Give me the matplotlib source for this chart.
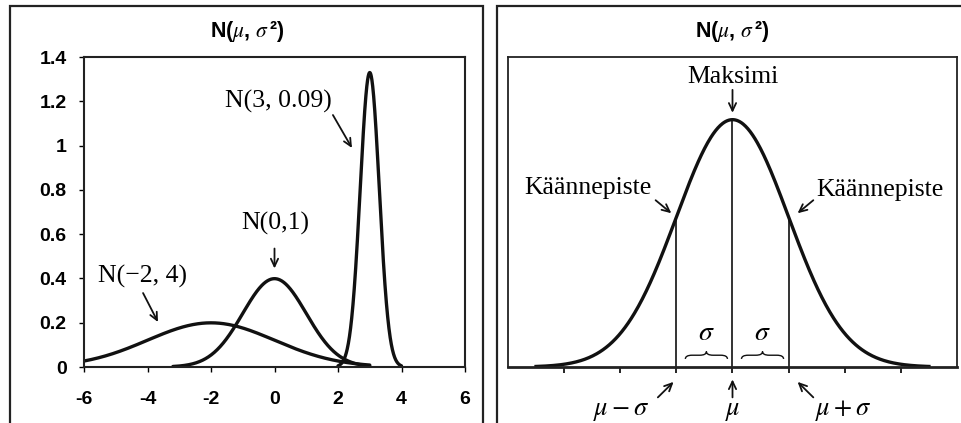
import numpy as np
import matplotlib
matplotlib.use("Agg")
import matplotlib.pyplot as plt
from matplotlib.patches import Rectangle, PathPatch
from matplotlib.path import Path

plt.rcParams['mathtext.fontset'] = 'stix'

# ---------------- data ----------------
# left panel: three normal distributions N(mean, variance)
means = [-2, 0, 3]
variances = [4, 1, 0.09]
x_start = [-6.0, -3.2, 2.0]
x_end = [3.0, 3.0, 4.0]
curve_labels = ["N(\u22122, 4)", "N(0,1)", "N(3, 0.09)"]
left_xticks = [-6, -4, -2, 0, 2, 4, 6]
left_yticks = [0, 0.2, 0.4, 0.6, 0.8, 1.0, 1.2, 1.4]
left_yticklabels = ["0", "0.2", "0.4", "0.6", "0.8", "1", "1.2", "1.4"]

# right panel: standard curve in sigma units
right_mu = 0.0
right_sigma = 1.0
right_range = [-3.5, 3.5]
right_xticks = [-3, -2, -1, 0, 1, 2, 3]
marker_offsets = [-1, 0, 1]
bottom_labels = [r"$\mu-\sigma$", r"$\mu$", r"$\mu+\sigma$"]

title_text = r"N($\mu$, $\sigma\,$²)"


def npdf(x, m, v):
    return np.exp(-(x - m) ** 2 / (2 * v)) / np.sqrt(2 * np.pi * v)


W, H = 962, 423
fig = plt.figure(figsize=(W / 100, H / 100), dpi=100)

serif = "Liberation Serif"
sans = "Liberation Sans"
col = "#111111"

# outer frames
for (x0, x1) in [(10, 483), (497, 975)]:
    fig.patches.append(Rectangle((x0 / W, -0.05), (x1 - x0) / W, 1.05 - 6 / H,
                                 transform=fig.transFigure, fill=False,
                                 lw=1.6, ec="#222222", clip_on=False))

# titles
for cx in (247, 732):
    fig.text(cx / W, 1 - 32 / H, title_text, ha="center", va="center",
             fontsize=15.5, fontweight="bold", family=sans)

# ---------------- left panel ----------------
axL = fig.add_axes([84 / W, 1 - 367 / H, (465 - 84) / W, (367 - 57) / H])
for m, v, a, b in zip(means, variances, x_start, x_end):
    xs = np.linspace(a, b, 400)
    axL.plot(xs, npdf(xs, m, v), color=col, lw=2.4, solid_capstyle="round")
axL.set_xlim(-6, 6)
axL.set_ylim(0, 1.4)
axL.set_xticks(left_xticks)
axL.set_xticklabels([str(t) for t in left_xticks])
axL.set_yticks(left_yticks)
axL.set_yticklabels(left_yticklabels)
for s in axL.spines.values():
    s.set_linewidth(1.5)
    s.set_color("#222222")
axL.tick_params(length=3.5, width=1)
axL.tick_params(axis="x", pad=14)
axL.tick_params(axis="y", pad=9)
for lab in axL.get_xticklabels() + axL.get_yticklabels():
    lab.set_fontfamily(sans)
    lab.set_fontweight("bold")
    lab.set_fontsize(14)

arrow_kw = dict(arrowstyle="->,head_length=0.55,head_width=0.26", lw=1.3, color=col,
                shrinkA=0, shrinkB=0)
fs = 18.5
# label positions and arrows (text xy, arrow start, arrow end)
left_ann = [
    ((-4.17, 0.407), (-4.14, 0.334), (-3.67, 0.203)),
    ((0.02, 0.65), (0.0, 0.535), (0.0, 0.445)),
    ((0.11, 1.197), (1.84, 1.138), (2.44, 0.989)),
]
for lab, (txy, a0, a1) in zip(curve_labels, left_ann):
    axL.text(txy[0], txy[1], lab, ha="center", va="center", fontsize=fs, family=serif)
    axL.annotate("", xy=a1, xytext=a0, arrowprops=arrow_kw)

# ---------------- right panel ----------------
axR = fig.add_axes([508 / W, 1 - 367 / H, (957 - 508) / W, (367 - 57) / H])
xs = np.linspace(right_range[0], right_range[1], 500)
axR.plot(xs, npdf(xs, right_mu, right_sigma ** 2), color=col, lw=2.4)
for k in marker_offsets:
    xv = right_mu + k * right_sigma
    axR.plot([xv, xv], [0, npdf(xv, right_mu, right_sigma ** 2)], color=col, lw=1.2)
axR.set_xlim(-4, 4)
axR.set_ylim(0, 0.5)
axR.set_xticks(right_xticks)
axR.set_xticklabels([])
axR.set_yticks([])
for s in axR.spines.values():
    s.set_linewidth(1.3)
    s.set_color("#222222")
axR.spines["bottom"].set_linewidth(2.0)
axR.tick_params(axis="x", length=4, width=1.2)

# braces and sigma labels
def brace(ax, x0, x1, y, h, q):
    xm = (x0 + x1) / 2
    verts = [(x0, y - h), (x0, y), (x0 + q, y),
             (xm - q, y),
             (xm, y), (xm, y + h),
             (xm, y), (xm + q, y),
             (x1 - q, y),
             (x1, y), (x1, y - h)]
    codes = [Path.MOVETO, Path.CURVE3, Path.CURVE3,
             Path.LINETO,
             Path.CURVE3, Path.CURVE3,
             Path.CURVE3, Path.CURVE3,
             Path.LINETO,
             Path.CURVE3, Path.CURVE3]
    ax.add_patch(PathPatch(Path(verts, codes), fill=False, lw=1.0, ec=col))

for (a, b) in [(-1, 0), (0, 1)]:
    brace(axR, a + 0.16, b - 0.09, 0.019, 0.006, 0.12)
    axR.text((a + b) / 2 + 0.03, 0.056, r"$\sigma$", ha="center", va="center", fontsize=20)

axR.text(0, 0.468, "Maksimi", ha="center", va="center", fontsize=fs, family=serif)
axR.annotate("", xy=(0, 0.41), xytext=(0, 0.447), arrowprops=arrow_kw)
axR.text(-2.58, 0.289, "Käännepiste", ha="center", va="center", fontsize=fs, family=serif)
axR.annotate("", xy=(-1.09, 0.248), xytext=(-1.37, 0.269), arrowprops=arrow_kw)
axR.text(2.63, 0.285, "Käännepiste", ha="center", va="center", fontsize=fs, family=serif)
axR.annotate("", xy=(1.16, 0.248), xytext=(1.44, 0.269), arrowprops=arrow_kw)

bottom_ann = [
    ((-1.99, -0.069), (-1.33, -0.049), (-1.05, -0.024)),
    ((0.0, -0.069), (0.0, -0.049), (0.0, -0.02)),
    ((1.98, -0.069), (1.44, -0.049), (1.16, -0.024)),
]
for lab, (txy, a0, a1) in zip(bottom_labels, bottom_ann):
    axR.text(txy[0], txy[1], lab, ha="center", va="center", fontsize=19, clip_on=False)
    axR.annotate("", xy=a1, xytext=a0, arrowprops=arrow_kw, annotation_clip=False)

fig.savefig("out.png", dpi=100)
